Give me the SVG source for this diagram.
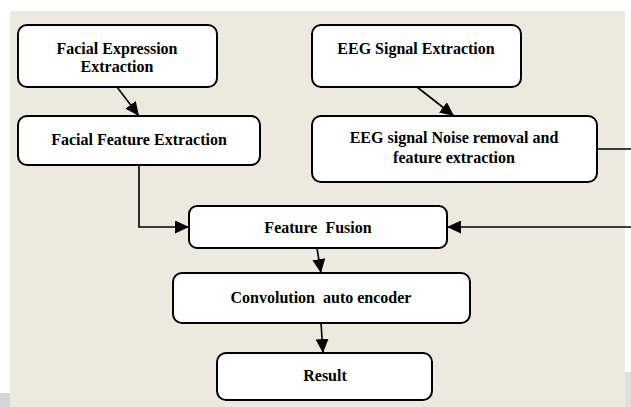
<svg xmlns="http://www.w3.org/2000/svg" width="631" height="407" viewBox="0 0 631 407">
<style>
.box{fill:#fff;stroke:#000;stroke-width:2}
.t{font-family:"Liberation Serif","Times New Roman",serif;font-weight:bold;font-size:16px;fill:#000;text-anchor:middle}
.c{fill:none;stroke:#000;stroke-width:1.6}
</style>
<defs>
<marker id="ah" viewBox="0 0 14 13" refX="14" refY="6.5" markerWidth="14" markerHeight="13" markerUnits="userSpaceOnUse" orient="auto">
<path d="M0,0 L14,6.5 L0,13 Z" fill="#000"/>
</marker>
</defs>
<rect x="0" y="0" width="631" height="407" fill="#fff"/>
<rect x="10" y="11" width="615" height="396" fill="#ECE9DF"/>
<rect x="0" y="393" width="10" height="14" fill="#d6d6d6"/>
<rect x="625" y="372" width="6" height="35" fill="#e0e0e0"/>
<g id="connectors">
<line class="c" x1="117" y1="87" x2="139" y2="116" marker-end="url(#ah)"/>
<line class="c" x1="417" y1="87" x2="454" y2="116" marker-end="url(#ah)"/>
<polyline class="c" points="139,165 139,227 189,227" marker-end="url(#ah)"/>
<line class="c" x1="597" y1="149" x2="631" y2="149"/>
<line class="c" x1="631" y1="227" x2="447" y2="227" marker-end="url(#ah)"/>
<line class="c" x1="317" y1="248" x2="321" y2="273" marker-end="url(#ah)"/>
<line class="c" x1="321" y1="323" x2="323" y2="353" marker-end="url(#ah)"/>
</g>
<g id="facial-expression">
<rect class="box" x="18" y="25" width="199" height="62" rx="9"/>
<text class="t" x="117" y="54">Facial Expression</text>
<text class="t" x="117" y="72">Extraction</text>
</g>
<g id="facial-feature">
<rect class="box" x="18" y="116" width="242" height="49" rx="9"/>
<text class="t" x="139" y="145">Facial Feature Extraction</text>
</g>
<g id="eeg-signal">
<rect class="box" x="312" y="25" width="209" height="62" rx="9"/>
<text class="t" x="416" y="54">EEG Signal Extraction</text>
</g>
<g id="eeg-noise">
<rect class="box" x="312" y="116" width="285" height="66" rx="9"/>
<text class="t" x="454" y="143">EEG signal Noise removal and</text>
<text class="t" x="454" y="163">feature extraction</text>
</g>
<g id="feature-fusion">
<rect class="box" x="189" y="206" width="258" height="42" rx="8"/>
<text class="t" x="318" y="233" xml:space="preserve">Feature  Fusion</text>
</g>
<g id="cae">
<rect class="box" x="173" y="273" width="297" height="50" rx="9"/>
<text class="t" x="321" y="303" xml:space="preserve">Convolution  auto encoder</text>
</g>
<g id="result">
<rect class="box" x="217" y="353" width="215" height="47" rx="9"/>
<text class="t" x="325" y="381">Result</text>
</g>
</svg>
